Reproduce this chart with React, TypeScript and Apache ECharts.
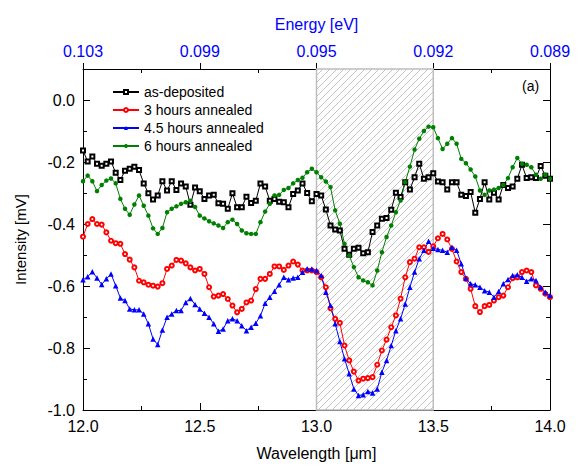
import React, { useEffect, useRef } from "react";
import * as echarts from "echarts";

// Sampling grid of the spectra (µm)
const lambdaStart = 12.0;
const lambdaStep = 0.02;

const seriesNames = ["as-deposited", "3 hours annealed", "4.5 hours annealed", "6 hours annealed"];

const asDeposited = [
  -0.163, -0.198, -0.182, -0.206, -0.212, -0.206, -0.198, -0.235, -0.258, -0.228,
  -0.222, -0.215, -0.226, -0.269, -0.301, -0.321, -0.308, -0.262, -0.292, -0.262,
  -0.290, -0.269, -0.279, -0.338, -0.282, -0.294, -0.319, -0.308, -0.306, -0.333,
  -0.335, -0.351, -0.301, -0.346, -0.346, -0.312, -0.332, -0.325, -0.269, -0.279,
  -0.325, -0.319, -0.328, -0.330, -0.346, -0.303, -0.292, -0.269, -0.300, -0.327,
  -0.303, -0.308, -0.353, -0.405, -0.418, -0.421, -0.480, -0.499, -0.480, -0.477,
  -0.494, -0.491, -0.426, -0.405, -0.383, -0.381, -0.354, -0.299, -0.313, -0.265,
  -0.289, -0.249, -0.206, -0.254, -0.249, -0.236, -0.263, -0.265, -0.289, -0.265,
  -0.265, -0.306, -0.310, -0.297, -0.364, -0.319, -0.265, -0.321, -0.299, -0.321,
  -0.274, -0.284, -0.279, -0.254, -0.209, -0.252, -0.249, -0.252, -0.213, -0.244,
  -0.254,
];

const annealed3h = [
  -0.441, -0.400, -0.384, -0.400, -0.402, -0.427, -0.454, -0.462, -0.464, -0.497,
  -0.515, -0.540, -0.583, -0.588, -0.596, -0.599, -0.602, -0.591, -0.545, -0.534,
  -0.516, -0.518, -0.527, -0.540, -0.550, -0.545, -0.561, -0.604, -0.634, -0.631,
  -0.626, -0.642, -0.663, -0.685, -0.674, -0.653, -0.647, -0.610, -0.577, -0.577,
  -0.561, -0.537, -0.537, -0.548, -0.534, -0.521, -0.531, -0.550, -0.550, -0.550,
  -0.555, -0.572, -0.604, -0.672, -0.706, -0.719, -0.792, -0.840, -0.876, -0.905,
  -0.899, -0.897, -0.894, -0.854, -0.808, -0.773, -0.733, -0.695, -0.641, -0.572,
  -0.523, -0.512, -0.475, -0.475, -0.490, -0.472, -0.446, -0.432, -0.450, -0.480,
  -0.521, -0.555, -0.577, -0.609, -0.665, -0.684, -0.665, -0.661, -0.647, -0.636,
  -0.631, -0.604, -0.575, -0.572, -0.555, -0.550, -0.555, -0.598, -0.609, -0.625,
  -0.636,
];

const annealed45h = [
  -0.580, -0.570, -0.554, -0.574, -0.595, -0.577, -0.561, -0.599, -0.639, -0.647,
  -0.674, -0.677, -0.677, -0.690, -0.722, -0.771, -0.789, -0.742, -0.701, -0.690,
  -0.679, -0.679, -0.653, -0.640, -0.660, -0.674, -0.688, -0.701, -0.722, -0.746,
  -0.739, -0.712, -0.706, -0.712, -0.728, -0.744, -0.733, -0.720, -0.696, -0.656,
  -0.636, -0.617, -0.596, -0.572, -0.580, -0.574, -0.572, -0.556, -0.544, -0.545,
  -0.550, -0.566, -0.620, -0.663, -0.722, -0.779, -0.835, -0.883, -0.932, -0.953,
  -0.951, -0.940, -0.945, -0.932, -0.878, -0.840, -0.792, -0.744, -0.706, -0.658,
  -0.604, -0.555, -0.512, -0.485, -0.456, -0.478, -0.482, -0.485, -0.491, -0.475,
  -0.485, -0.528, -0.575, -0.593, -0.596, -0.604, -0.615, -0.620, -0.636, -0.618,
  -0.593, -0.579, -0.566, -0.564, -0.572, -0.585, -0.577, -0.582, -0.604, -0.620,
  -0.631,
];

const annealed6h = [
  -0.262, -0.244, -0.262, -0.294, -0.274, -0.260, -0.253, -0.269, -0.319, -0.351,
  -0.370, -0.337, -0.308, -0.341, -0.373, -0.414, -0.432, -0.413, -0.362, -0.351,
  -0.343, -0.335, -0.330, -0.325, -0.345, -0.373, -0.382, -0.391, -0.398, -0.405,
  -0.413, -0.394, -0.386, -0.400, -0.421, -0.430, -0.432, -0.432, -0.394, -0.360,
  -0.335, -0.308, -0.306, -0.290, -0.284, -0.269, -0.258, -0.251, -0.233, -0.222,
  -0.233, -0.249, -0.263, -0.281, -0.356, -0.399, -0.464, -0.502, -0.539, -0.572,
  -0.582, -0.588, -0.598, -0.550, -0.491, -0.442, -0.405, -0.362, -0.324, -0.265,
  -0.215, -0.160, -0.125, -0.100, -0.086, -0.088, -0.123, -0.158, -0.141, -0.123,
  -0.141, -0.190, -0.204, -0.224, -0.247, -0.292, -0.306, -0.292, -0.289, -0.284,
  -0.274, -0.252, -0.217, -0.187, -0.206, -0.209, -0.217, -0.241, -0.254, -0.241,
  -0.254,
];

// Axes
const xMin = 12.0;
const xMax = 14.0;
const xInterval = 0.5;
const energyTickLabels = ["0.103", "0.099", "0.095", "0.092", "0.089"];
const yMin = -1.0;
const yMax = 0.1;
const yInterval = 0.2;

// Shaded region (µm)
const hatchStart = 13.0;
const hatchEnd = 13.5;

const FONT = "'Liberation Sans', Arial, Helvetica, sans-serif";

function makeHatch(): HTMLCanvasElement {
  const c = document.createElement("canvas");
  const s = 7;
  c.width = s;
  c.height = s;
  const ctx = c.getContext("2d")!;
  ctx.fillStyle = "#ffffff";
  ctx.fillRect(0, 0, s, s);
  ctx.strokeStyle = "#b4b4b4";
  ctx.lineWidth = 0.8;
  ctx.beginPath();
  ctx.moveTo(0, s);
  ctx.lineTo(s, 0);
  ctx.moveTo(-1, 1);
  ctx.lineTo(1, -1);
  ctx.moveTo(s - 1, s + 1);
  ctx.lineTo(s + 1, s - 1);
  ctx.stroke();
  return c;
}

export default function App() {
  const ref = useRef<HTMLDivElement>(null);

  useEffect(() => {
    if (!ref.current) return;
    const chart = echarts.init(ref.current, undefined, { renderer: "svg" });
    const lambdas = asDeposited.map((_, i) => +(lambdaStart + i * lambdaStep).toFixed(2));
    const toPairs = (vals: number[]) => vals.map((v, i) => [lambdas[i], v]);

    const hatch = makeHatch();

    const axisLineStyle = { color: "#000", width: 1 };

    const option: any = {
      animation: false,
      backgroundColor: "#ffffff",
      textStyle: { fontFamily: FONT },
      grid: { left: 83, right: 29, top: 69, bottom: 58, containLabel: false },
      legend: {
        orient: "vertical",
        left: 107,
        top: 80,
        itemWidth: 26,
        itemHeight: 5,
        itemGap: 4,
        textStyle: { fontFamily: FONT, fontSize: 14, color: "#000", lineHeight: 14 },
        data: seriesNames,
      },
      graphic: [
        {
          type: "text",
          left: 522,
          top: 79,
          style: { text: "(a)", fontFamily: FONT, fontSize: 14, fill: "#000" },
        },
      ],
      xAxis: [
        {
          type: "value",
          position: "bottom",
          min: xMin,
          max: xMax,
          interval: xInterval,
          name: "Wavelength [μm]",
          nameLocation: "middle",
          nameGap: 35,
          nameTextStyle: { fontFamily: FONT, fontSize: 16, color: "#000" },
          axisLine: { show: true, onZero: false, lineStyle: axisLineStyle },
          axisTick: { show: true, inside: true, length: 7, lineStyle: axisLineStyle },
          minorTick: { show: true, splitNumber: 2, length: 4, lineStyle: axisLineStyle },
          axisLabel: {
            fontFamily: FONT,
            fontSize: 16,
            color: "#000",
            margin: 8,
            formatter: (v: number) => v.toFixed(1),
          },
          splitLine: { show: false },
        },
        {
          type: "value",
          position: "top",
          min: xMin,
          max: xMax,
          interval: xInterval,
          name: "Energy [eV]",
          nameLocation: "middle",
          nameGap: 37,
          nameTextStyle: { fontFamily: FONT, fontSize: 16, color: "#0000ff" },
          axisLine: { show: true, onZero: false, lineStyle: axisLineStyle },
          axisTick: { show: true, inside: false, length: 6, lineStyle: axisLineStyle },
          axisLabel: {
            fontFamily: FONT,
            fontSize: 16,
            color: "#0000ff",
            margin: 10,
            formatter: (v: number) => energyTickLabels[Math.round((v - xMin) / xInterval)] ?? "",
          },
          splitLine: { show: false },
        },
        {
          type: "value",
          position: "top",
          min: xMin,
          max: xMax,
          interval: xInterval,
          axisLine: { show: false, onZero: false },
          axisTick: { show: false, inside: true },
          minorTick: { show: true, splitNumber: 2, length: 4, lineStyle: axisLineStyle },
          axisLabel: { show: false },
          splitLine: { show: false },
        },
      ],
      yAxis: [
        {
          type: "value",
          position: "left",
          min: yMin,
          max: yMax,
          interval: yInterval,
          name: "Intensity [mV]",
          nameLocation: "middle",
          nameGap: 55,
          nameRotate: 90,
          nameTextStyle: { fontFamily: FONT, fontSize: 15, color: "#000" },
          axisLine: { show: true, onZero: false, lineStyle: axisLineStyle },
          axisTick: { show: true, inside: true, length: 7, lineStyle: axisLineStyle },
          minorTick: { show: true, splitNumber: 2, length: 4, lineStyle: axisLineStyle },
          axisLabel: {
            fontFamily: FONT,
            fontSize: 16,
            color: "#000",
            margin: 8,
            formatter: (v: number) => (v > 0.05 ? "" : v.toFixed(1)),
          },
          splitLine: { show: false },
        },
        {
          type: "value",
          position: "right",
          min: yMin,
          max: yMax,
          interval: yInterval,
          axisLine: { show: true, onZero: false, lineStyle: axisLineStyle },
          axisTick: { show: true, inside: true, length: 7, lineStyle: axisLineStyle },
          minorTick: { show: true, splitNumber: 2, length: 4, lineStyle: axisLineStyle },
          axisLabel: { show: false },
          splitLine: { show: false },
        },
      ],
      series: [
        {
          name: seriesNames[0],
          type: "line",
          data: toPairs(asDeposited),
          symbol: "emptyRect",
          symbolSize: 4,
          lineStyle: { color: "#000000", width: 1 },
          itemStyle: { color: "#000000", borderWidth: 0.8 },
          z: 3,
          markArea: {
            silent: true,
            z: 1,
            itemStyle: {
              color: { image: hatch, repeat: "repeat" },
              borderColor: "#bdbdbd",
              borderWidth: 1.5,
            },
            data: [[{ xAxis: hatchStart }, { xAxis: hatchEnd }]],
          },
        },
        {
          name: seriesNames[1],
          type: "line",
          data: toPairs(annealed3h),
          symbol: "emptyCircle",
          symbolSize: 4,
          lineStyle: { color: "#ff0000", width: 1 },
          itemStyle: { color: "#ff0000", borderWidth: 0.8 },
          z: 3,
        },
        {
          name: seriesNames[2],
          type: "line",
          data: toPairs(annealed45h),
          symbol: "triangle",
          symbolSize: 5.5,
          lineStyle: { color: "#0000ff", width: 1 },
          itemStyle: { color: "#0000ff" },
          z: 3,
        },
        {
          name: seriesNames[3],
          type: "line",
          data: toPairs(annealed6h),
          symbol: "circle",
          symbolSize: 4.5,
          lineStyle: { color: "#008000", width: 1 },
          itemStyle: { color: "#008000" },
          z: 3,
        },
      ],
    };

    chart.setOption(option);
    return () => chart.dispose();
  }, []);

  return (
    <div
      ref={ref}
      style={{ position: "fixed", left: 0, top: 0, width: 579, height: 468, background: "#fff" }}
    />
  );
}
